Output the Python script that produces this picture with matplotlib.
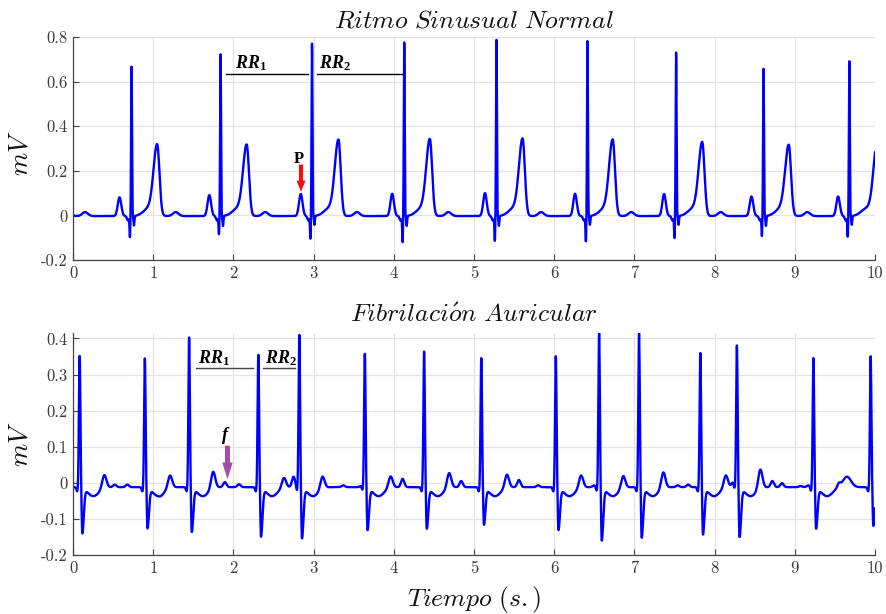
import numpy as np
import matplotlib
matplotlib.use("Agg")
import matplotlib.pyplot as plt
from matplotlib.ticker import FixedLocator, FuncFormatter

# ---------------- data ----------------
# Ritmo sinusal normal: one entry per beat (first beat lies before t=0)
nsr_r_times = [-0.40, 0.73, 1.84, 2.98, 4.13, 5.28, 6.415, 7.52, 8.61, 9.68]
nsr_r_amps = [0.70, 0.67, 0.725, 0.773, 0.778, 0.79, 0.797, 0.733, 0.66, 0.694]
nsr_q_amps = [-0.09, -0.093, -0.08, -0.10, -0.116, -0.11, -0.113, -0.097, -0.088, -0.091]
nsr_s_amps = [-0.045, -0.043, -0.045, -0.040, -0.045, -0.045, -0.040, -0.040, -0.045, -0.040]
nsr_p_times = [-0.55, 0.58, 1.70, 2.84, 3.98, 5.137, 6.26, 7.37, 8.46, 9.54]
nsr_p_amps = [0.085, 0.084, 0.094, 0.099, 0.10, 0.103, 0.10, 0.099, 0.088, 0.088]
nsr_t_times = [-0.08, 1.05, 2.166, 3.31, 4.45, 5.606, 6.73, 7.846, 8.925, 10.025]
nsr_t_amps = [0.32, 0.322, 0.322, 0.345, 0.345, 0.349, 0.342, 0.333, 0.318, 0.33]

# Fibrilacion auricular
af_r_times = [0.083, 0.896, 1.448, 2.311, 2.822, 3.639, 4.378, 5.091, 6.02,
              6.56, 7.058, 7.822, 8.278, 9.232, 9.946]
af_r_amps = [0.355, 0.346, 0.404, 0.358, 0.411, 0.36, 0.365, 0.349, 0.352,
             0.416, 0.416, 0.361, 0.381, 0.347, 0.352]
af_s_amps = [-0.145, -0.131, -0.141, -0.154, -0.159, -0.136, -0.132, -0.121, -0.136,
             -0.165, -0.157, -0.148, -0.155, -0.132, -0.124]
af_wave_times = [0.39, 1.21, 1.747, 2.63, 3.11, 3.96, 4.69, 5.41, 6.335, 6.86,
                 7.36, 8.14, 8.57, 9.65]
af_wave_amps = [0.023, 0.021, 0.033, 0.014, 0.021, 0.018, 0.028, 0.023, 0.021, 0.021,
                0.031, 0.021, 0.040, 0.015]
af_f_times = [0.52, 0.677, 1.10, 1.893, 2.07, 2.75, 3.37, 3.60, 4.11, 4.84, 5.56,
              5.80, 6.50, 7.54, 7.67, 8.23, 8.72, 8.84, 9.07, 9.17, 9.55]
af_f_amps = [-0.004, -0.004, -0.013, 0.003, -0.003, 0.018, -0.006, -0.006, 0.012, 0.006,
             0.009, -0.006, -0.006, -0.006, -0.004, 0.003, 0.006, 0.0, -0.008, -0.006, 0.0]

x_ticks = [0, 1, 2, 3, 4, 5, 6, 7, 8, 9, 10]
nsr_y_ticks = [-0.2, 0, 0.2, 0.4, 0.6, 0.8]
af_y_ticks = [-0.2, -0.1, 0, 0.1, 0.2, 0.3, 0.4]

# ---------------- waveform construction ----------------
t = np.arange(0.0, 10.0 + 1e-9, 0.002)


def g(mu, a, s):
    return a * np.exp(-0.5 * ((t - mu) / s) ** 2)


def ag(mu, a, sl, sr):
    s = np.where(t < mu, sl, sr)
    return a * np.exp(-0.5 * ((t - mu) / s) ** 2)


nsr = np.full_like(t, -0.003)
for r, ra, qa, sa, pt, pa, tt, ta in zip(nsr_r_times, nsr_r_amps, nsr_q_amps, nsr_s_amps,
                                         nsr_p_times, nsr_p_amps, nsr_t_times, nsr_t_amps):
    nsr += g(pt, pa, 0.022)
    nsr += g(r - 0.045, -0.02, 0.012)
    nsr += g(r - 0.02, qa, 0.005)
    nsr += g(r, ra, 0.0055)
    nsr += g(r + 0.03, sa, 0.006)
    nsr += g(r + 0.22, 0.035, 0.07)
    nsr += ag(tt, ta - 0.012, 0.045, 0.028)
    nsr += g(tt + 0.23, 0.018, 0.035)

af = np.full_like(t, -0.012)
for r, ra, sa in zip(af_r_times, af_r_amps, af_s_amps):
    af += g(r - 0.03, -0.012, 0.01)
    af += g(r, ra + 0.012, 0.009)
    af += ag(r + 0.033, sa + 0.02, 0.008, 0.018)
    af += g(r + 0.17, -0.025, 0.07)
for ft, fa in zip(af_wave_times, af_wave_amps):
    af += g(ft, fa + 0.014, 0.026 if ft < 9.6 else 0.05)
for ft, fa in zip(af_f_times, af_f_amps):
    af += g(ft, fa + 0.011, 0.02)

# ---------------- styling ----------------
plt.rcParams.update({
    "font.family": "serif",
    "font.serif": ["cmr10", "DejaVu Serif"],
    "mathtext.fontset": "cm",
    "axes.unicode_minus": False,
    "axes.formatter.use_mathtext": True,
    "mathtext.bf": "Liberation Serif:italic:bold",
    "mathtext.rm": "Liberation Serif:bold",
    "mathtext.it": "Liberation Serif:italic:bold",
})

W, H = 887, 614
fig = plt.figure(figsize=(W / 100, H / 100), dpi=100)
ax1 = fig.add_axes([73 / W, 1 - 260 / H, 802 / W, 223 / H])
ax2 = fig.add_axes([73 / W, 1 - 555 / H, 802 / W, 222 / H])

blue = "#0000ff"
tick_col = "#3a3a3a"


def fmt(v, pos):
    return "%g" % round(v, 3)


for ax, yt, ylim in ((ax1, nsr_y_ticks, (-0.2, 0.8)), (ax2, af_y_ticks, (-0.2, 0.415))):
    ax.set_xlim(0, 10)
    ax.set_ylim(*ylim)
    ax.xaxis.set_major_locator(FixedLocator(x_ticks))
    ax.yaxis.set_major_locator(FixedLocator(yt))
    ax.xaxis.set_major_formatter(FuncFormatter(fmt))
    ax.yaxis.set_major_formatter(FuncFormatter(fmt))
    ax.grid(True, color="#e3e3e3", lw=0.9)
    ax.set_axisbelow(True)
    for side in ("top", "right"):
        ax.spines[side].set_visible(False)
    for side in ("left", "bottom"):
        ax.spines[side].set_color("#444444")
        ax.spines[side].set_linewidth(0.9)
    ax.tick_params(direction="in", length=4, width=0.8, color="#444444",
                   labelcolor=tick_col, labelsize=12, pad=4)

ax1.plot(t, nsr, color=blue, lw=1.7)
ax2.plot(t, af, color=blue, lw=1.7)

ax1.set_title(r"$Ritmo\ Sinusual\ Normal$", fontsize=18.5, pad=7, color="#111111")
ax2.set_title(r"$Fibrilaci\acute{o}n\ Auricular$", fontsize=18.5, pad=8, color="#111111")
ax1.set_ylabel(r"$mV$", fontsize=19, color="#111111")
ax2.set_ylabel(r"$mV$", fontsize=19, color="#111111")
ax1.yaxis.set_label_coords(-0.05, 0.48)
ax2.yaxis.set_label_coords(-0.05, 0.5)
ax2.set_xlabel(r"$Tiempo\ (s.)$", fontsize=18.5, color="#111111")
ax2.xaxis.set_label_coords(0.5, -0.13)

# ---------------- annotations ----------------
rr_kw = dict(fontsize=13, math_fontfamily="custom", ha="left", va="baseline", color="k")
ax1.plot([1.91, 2.935], [0.635, 0.635], color="k", lw=1.0)
ax1.plot([3.04, 4.10], [0.635, 0.635], color="k", lw=1.0)
ax1.text(2.02, 0.659, r"$\mathbf{RR}_{\mathrm{1}}$", **rr_kw)
ax1.text(3.07, 0.659, r"$\mathbf{RR}_{\mathrm{2}}$", **rr_kw)
ax1.text(2.82, 0.235, "P", fontsize=12, family="Liberation Serif", weight="bold",
         ha="center", va="baseline", color="k")
ax1.annotate("", xy=(2.843, 0.106), xytext=(2.843, 0.228),
             arrowprops=dict(arrowstyle="simple,tail_width=0.3,head_width=0.65,head_length=0.8",
                             color="#ee1111", mutation_scale=10, shrinkA=0, shrinkB=0, lw=0))

ax2.plot([1.53, 2.25], [0.317, 0.317], color="#444444", lw=1.0)
ax2.plot([2.37, 2.765], [0.317, 0.317], color="#444444", lw=1.0)
ax2.text(1.56, 0.331, r"$\mathbf{RR}_{\mathrm{1}}$", **rr_kw)
ax2.text(2.39, 0.331, r"$\mathbf{RR}_{\mathrm{2}}$", **rr_kw)
ax2.text(1.89, 0.118, "f", fontsize=13, family="Liberation Serif", weight="bold",
         style="italic", ha="center", va="baseline", color="k")
ax2.annotate("", xy=(1.926, 0.010), xytext=(1.926, 0.103),
             arrowprops=dict(arrowstyle="simple,tail_width=0.36,head_width=0.75,head_length=1.2",
                             color="#a64ca6", mutation_scale=10, shrinkA=0, shrinkB=0, lw=0))

fig.savefig("out.png", dpi=100)
